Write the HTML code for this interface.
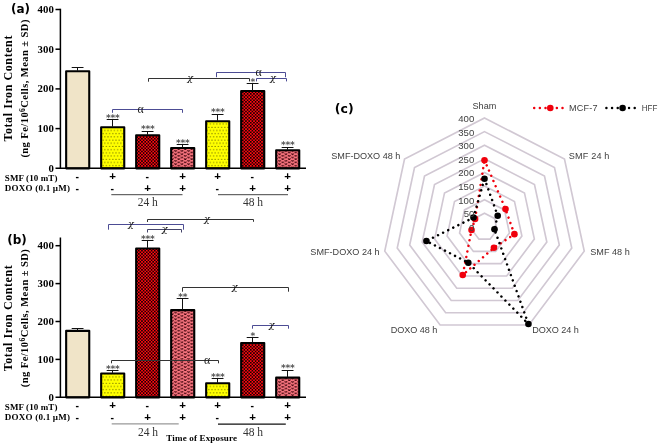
<!DOCTYPE html>
<html><head><meta charset="utf-8"><title>Figure</title>
<style>
html,body{margin:0;padding:0;background:#fff;}
svg{display:block;will-change:transform;}
.ser{font-family:"Liberation Serif",serif;}
.san{font-family:"Liberation Sans",sans-serif;}
.dj{font-family:"DejaVu Sans","Liberation Sans",sans-serif;font-weight:bold;}
.b{font-weight:bold;}
</style></head><body>
<svg width="660" height="446" viewBox="0 0 660 446">
<defs>
<pattern id="pY" width="3.2" height="6.4" patternUnits="userSpaceOnUse" x="1.6" y="1.65">
<rect width="3.2" height="6.4" fill="#ffff00"/><rect x="0.38" y="0.38" width="0.84" height="0.84" fill="#141400"/><rect x="1.98" y="3.58" width="0.84" height="0.84" fill="#141400"/>
</pattern>
<pattern id="pR" width="3.2" height="3.2" patternUnits="userSpaceOnUse" x="0.4" y="0.3">
<rect width="3.2" height="3.2" fill="#ff0810"/><rect x="0" y="0" width="1.55" height="1.55" fill="#100000"/><rect x="1.6" y="1.6" width="1.55" height="1.55" fill="#100000"/>
</pattern>
<pattern id="pP" width="6.5" height="3.3" patternUnits="userSpaceOnUse" x="4.9" y="1.5">
<rect width="6.5" height="3.3" fill="#fa7680"/><path d="M0.35 0.25 L1.6 1.45 L2.85 0.25 M3.6 1.9 L4.85 3.1 L6.1 1.9" fill="none" stroke="#3a0008" stroke-width="1"/>
</pattern>
</defs>
<rect width="660" height="446" fill="#ffffff"/>

<rect x="66.15" y="71.25" width="23.1" height="97.10" fill="#f0e4c8" stroke="#000" stroke-width="2.1" stroke-linejoin="round"/>
<path d="M77.5 70.70V67.50M71.7 67.50H83.5" stroke="#111" stroke-width="1" fill="none"/>
<rect x="101.15" y="127.25" width="23.1" height="41.10" fill="url(#pY)" stroke="#000" stroke-width="2.1" stroke-linejoin="round"/>
<path d="M112.5 126.70V119.50M106.7 119.50H118.5" stroke="#111" stroke-width="1" fill="none"/>
<text class="dj" x="112.7" y="121.3" font-size="9" letter-spacing="-0.2" text-anchor="middle" fill="#555">***</text>
<rect x="136.15" y="135.25" width="23.1" height="33.10" fill="url(#pR)" stroke="#000" stroke-width="2.1" stroke-linejoin="round"/>
<path d="M147.5 134.70V131.50M141.7 131.50H153.5" stroke="#111" stroke-width="1" fill="none"/>
<text class="dj" x="147.7" y="132.1" font-size="9" letter-spacing="-0.2" text-anchor="middle" fill="#555">***</text>
<rect x="171.15" y="148.05" width="23.1" height="20.30" fill="url(#pP)" stroke="#000" stroke-width="2.1" stroke-linejoin="round"/>
<path d="M182.5 147.50V144.50M176.7 144.50H188.5" stroke="#111" stroke-width="1" fill="none"/>
<text class="dj" x="182.7" y="145.5" font-size="9" letter-spacing="-0.2" text-anchor="middle" fill="#555">***</text>
<rect x="206.15" y="121.25" width="23.1" height="47.10" fill="url(#pY)" stroke="#000" stroke-width="2.1" stroke-linejoin="round"/>
<path d="M217.5 120.70V114.50M211.7 114.50H223.5" stroke="#111" stroke-width="1" fill="none"/>
<text class="dj" x="217.7" y="115.1" font-size="9" letter-spacing="-0.2" text-anchor="middle" fill="#555">***</text>
<rect x="241.15" y="91.05" width="23.1" height="77.30" fill="url(#pR)" stroke="#000" stroke-width="2.1" stroke-linejoin="round"/>
<path d="M252.5 90.50V83.50M246.7 83.50H258.5" stroke="#111" stroke-width="1" fill="none"/>
<text class="dj" x="252.7" y="85.1" font-size="9" letter-spacing="-0.2" text-anchor="middle" fill="#555">*</text>
<rect x="276.15" y="150.25" width="23.1" height="18.10" fill="url(#pP)" stroke="#000" stroke-width="2.1" stroke-linejoin="round"/>
<path d="M287.5 149.70V147.50M281.7 147.50H293.5" stroke="#111" stroke-width="1" fill="none"/>
<text class="dj" x="287.7" y="148.4" font-size="9" letter-spacing="-0.2" text-anchor="middle" fill="#555">***</text>
<path d="M60.4 8.75V169.05M55.5 168.30H306" stroke="#000" stroke-width="1.5" fill="none"/>
<text class="ser b" x="53.8" y="171.80" font-size="10.8" text-anchor="end">0</text>
<path d="M55.5 128.60H60.4" stroke="#000" stroke-width="1.5"/>
<text class="ser b" x="53.8" y="132.10" font-size="10.8" text-anchor="end">100</text>
<path d="M55.5 88.90H60.4" stroke="#000" stroke-width="1.5"/>
<text class="ser b" x="53.8" y="92.40" font-size="10.8" text-anchor="end">200</text>
<path d="M55.5 49.20H60.4" stroke="#000" stroke-width="1.5"/>
<text class="ser b" x="53.8" y="52.70" font-size="10.8" text-anchor="end">300</text>
<path d="M55.5 9.50H60.4" stroke="#000" stroke-width="1.5"/>
<text class="ser b" x="53.8" y="13.00" font-size="10.8" text-anchor="end">400</text>
<rect x="66.15" y="330.85" width="23.1" height="66.50" fill="#f0e4c8" stroke="#000" stroke-width="2.1" stroke-linejoin="round"/>
<path d="M77.5 330.30V328.50M71.7 328.50H83.5" stroke="#111" stroke-width="1" fill="none"/>
<rect x="101.15" y="373.45" width="23.1" height="23.90" fill="url(#pY)" stroke="#000" stroke-width="2.1" stroke-linejoin="round"/>
<path d="M112.5 372.90V370.50M106.7 370.50H118.5" stroke="#111" stroke-width="1" fill="none"/>
<text class="dj" x="112.7" y="372.1" font-size="9" letter-spacing="-0.2" text-anchor="middle" fill="#555">***</text>
<rect x="136.15" y="248.45" width="23.1" height="148.90" fill="url(#pR)" stroke="#000" stroke-width="2.1" stroke-linejoin="round"/>
<path d="M147.5 247.90V240.50M141.7 240.50H153.5" stroke="#111" stroke-width="1" fill="none"/>
<text class="dj" x="147.7" y="242.1" font-size="9" letter-spacing="-0.2" text-anchor="middle" fill="#555">***</text>
<rect x="171.15" y="310.15" width="23.1" height="87.20" fill="url(#pP)" stroke="#000" stroke-width="2.1" stroke-linejoin="round"/>
<path d="M182.5 309.60V298.50M176.7 298.50H188.5" stroke="#111" stroke-width="1" fill="none"/>
<text class="dj" x="182.7" y="299.6" font-size="9" letter-spacing="-0.2" text-anchor="middle" fill="#555">**</text>
<rect x="206.15" y="383.25" width="23.1" height="14.10" fill="url(#pY)" stroke="#000" stroke-width="2.1" stroke-linejoin="round"/>
<path d="M217.5 382.70V378.50M211.7 378.50H223.5" stroke="#111" stroke-width="1" fill="none"/>
<text class="dj" x="217.7" y="380.1" font-size="9" letter-spacing="-0.2" text-anchor="middle" fill="#555">***</text>
<rect x="241.15" y="343.05" width="23.1" height="54.30" fill="url(#pR)" stroke="#000" stroke-width="2.1" stroke-linejoin="round"/>
<path d="M252.5 342.50V337.50M246.7 337.50H258.5" stroke="#111" stroke-width="1" fill="none"/>
<text class="dj" x="252.7" y="338.6" font-size="9" letter-spacing="-0.2" text-anchor="middle" fill="#555">*</text>
<rect x="276.15" y="377.65" width="23.1" height="19.70" fill="url(#pP)" stroke="#000" stroke-width="2.1" stroke-linejoin="round"/>
<path d="M287.5 377.10V370.50M281.7 370.50H293.5" stroke="#111" stroke-width="1" fill="none"/>
<text class="dj" x="287.7" y="371.3" font-size="9" letter-spacing="-0.2" text-anchor="middle" fill="#555">***</text>
<path d="M60.4 237.50V398.05M55.5 397.30H306" stroke="#000" stroke-width="1.5" fill="none"/>
<text class="ser b" x="53.8" y="400.80" font-size="10.8" text-anchor="end">0</text>
<path d="M55.5 359.40H60.4" stroke="#000" stroke-width="1.5"/>
<text class="ser b" x="53.8" y="362.90" font-size="10.8" text-anchor="end">100</text>
<path d="M55.5 321.50H60.4" stroke="#000" stroke-width="1.5"/>
<text class="ser b" x="53.8" y="325.00" font-size="10.8" text-anchor="end">200</text>
<path d="M55.5 283.60H60.4" stroke="#000" stroke-width="1.5"/>
<text class="ser b" x="53.8" y="287.10" font-size="10.8" text-anchor="end">300</text>
<path d="M55.5 245.70H60.4" stroke="#000" stroke-width="1.5"/>
<text class="ser b" x="53.8" y="249.20" font-size="10.8" text-anchor="end">400</text>
<path d="M112.5 112.8V109.5H182.5V112.8" fill="none" stroke="#4c4c94" stroke-width="1"/>
<text class="ser" x="140.5" y="112.9" font-size="11.8" text-anchor="middle" fill="#222">α</text>
<path d="M148.5 81.7V78.5H249.5V81.4" fill="none" stroke="#333" stroke-width="1"/>
<text x="190.2" y="80.5" font-family="DejaVu Serif,Liberation Serif,serif" font-size="9.6" font-style="italic" text-anchor="middle" fill="#111">χ</text>
<path d="M216.5 77.2V72.5H285.5V77.2" fill="none" stroke="#4c4c94" stroke-width="1"/>
<text class="ser" x="258.7" y="75.5" font-size="11.8" text-anchor="middle" fill="#222">α</text>
<path d="M256.5 81.4V78.5H286.5V81.4" fill="none" stroke="#4c4c94" stroke-width="1"/>
<text x="272.8" y="80.7" font-family="DejaVu Serif,Liberation Serif,serif" font-size="9.6" font-style="italic" text-anchor="middle" fill="#111">χ</text>
<path d="M147.5 222.0V219.5H253.5V221.8" fill="none" stroke="#333" stroke-width="1"/>
<text x="207.0" y="221.5" font-family="DejaVu Serif,Liberation Serif,serif" font-size="9.6" font-style="italic" text-anchor="middle" fill="#111">χ</text>
<path d="M108.5 229.7V224.5H183.5V229.7" fill="none" stroke="#4c4c94" stroke-width="1"/>
<text x="130.8" y="226.6" font-family="DejaVu Serif,Liberation Serif,serif" font-size="9.6" font-style="italic" text-anchor="middle" fill="#111">χ</text>
<path d="M147.5 232.5V229.5H181.5V232.5" fill="none" stroke="#44446a" stroke-width="1"/>
<text x="164.7" y="232.0" font-family="DejaVu Serif,Liberation Serif,serif" font-size="9.6" font-style="italic" text-anchor="middle" fill="#111">χ</text>
<path d="M182.5 291.7V287.5H288.5V291.7" fill="none" stroke="#333" stroke-width="1"/>
<text x="234.7" y="289.5" font-family="DejaVu Serif,Liberation Serif,serif" font-size="9.6" font-style="italic" text-anchor="middle" fill="#111">χ</text>
<path d="M252.5 328.7V325.5H288.5V328.7" fill="none" stroke="#4c4c94" stroke-width="1"/>
<text x="271.7" y="327.7" font-family="DejaVu Serif,Liberation Serif,serif" font-size="9.6" font-style="italic" text-anchor="middle" fill="#111">χ</text>
<path d="M111.5 363.3V360.5H218.5V363.3" fill="none" stroke="#333" stroke-width="1"/>
<text class="ser" x="207.0" y="363.8" font-size="11.8" text-anchor="middle" fill="#222">α</text>
<text class="ser b" x="4.8" y="180.6" font-size="9" textLength="52.6" lengthAdjust="spacing">SMF (10 mT)</text>
<text class="ser b" x="4.8" y="190.9" font-size="9" textLength="65.2" lengthAdjust="spacing">DOXO (0.1 µM)</text>
<text class="san b" x="77.3" y="179.6" font-size="10.5" text-anchor="middle">-</text>
<text class="san b" x="77.3" y="192.3" font-size="10.5" text-anchor="middle">-</text>
<text class="san b" x="112.6" y="179.5" font-size="11.5" text-anchor="middle">+</text>
<text class="san b" x="112.3" y="192.3" font-size="10.5" text-anchor="middle">-</text>
<text class="san b" x="147.3" y="179.6" font-size="10.5" text-anchor="middle">-</text>
<text class="san b" x="147.6" y="192.2" font-size="11.5" text-anchor="middle">+</text>
<text class="san b" x="182.6" y="179.5" font-size="11.5" text-anchor="middle">+</text>
<text class="san b" x="182.6" y="192.2" font-size="11.5" text-anchor="middle">+</text>
<text class="san b" x="217.6" y="179.5" font-size="11.5" text-anchor="middle">+</text>
<text class="san b" x="217.3" y="192.3" font-size="10.5" text-anchor="middle">-</text>
<text class="san b" x="252.3" y="179.6" font-size="10.5" text-anchor="middle">-</text>
<text class="san b" x="252.6" y="192.2" font-size="11.5" text-anchor="middle">+</text>
<text class="san b" x="287.6" y="179.5" font-size="11.5" text-anchor="middle">+</text>
<text class="san b" x="287.6" y="192.2" font-size="11.5" text-anchor="middle">+</text>
<text class="ser b" x="4.8" y="409.8" font-size="9" textLength="52.6" lengthAdjust="spacing">SMF (10 mT)</text>
<text class="ser b" x="4.8" y="420.1" font-size="9" textLength="65.2" lengthAdjust="spacing">DOXO (0.1 µM)</text>
<text class="san b" x="77.3" y="408.7" font-size="10.5" text-anchor="middle">-</text>
<text class="san b" x="77.3" y="421.2" font-size="10.5" text-anchor="middle">-</text>
<text class="san b" x="112.6" y="408.6" font-size="11.5" text-anchor="middle">+</text>
<text class="san b" x="112.3" y="421.2" font-size="10.5" text-anchor="middle">-</text>
<text class="san b" x="147.3" y="408.7" font-size="10.5" text-anchor="middle">-</text>
<text class="san b" x="147.6" y="421.1" font-size="11.5" text-anchor="middle">+</text>
<text class="san b" x="182.6" y="408.6" font-size="11.5" text-anchor="middle">+</text>
<text class="san b" x="182.6" y="421.1" font-size="11.5" text-anchor="middle">+</text>
<text class="san b" x="217.6" y="408.6" font-size="11.5" text-anchor="middle">+</text>
<text class="san b" x="217.3" y="421.2" font-size="10.5" text-anchor="middle">-</text>
<text class="san b" x="252.3" y="408.7" font-size="10.5" text-anchor="middle">-</text>
<text class="san b" x="252.6" y="421.1" font-size="11.5" text-anchor="middle">+</text>
<text class="san b" x="287.6" y="408.6" font-size="11.5" text-anchor="middle">+</text>
<text class="san b" x="287.6" y="421.1" font-size="11.5" text-anchor="middle">+</text>
<path d="M111.3 194.7H182.5M218 194.7H288" stroke="#444" stroke-width="1"/>
<text class="ser" x="147.8" y="205.8" font-size="11.5" text-anchor="middle" fill="#333">24 h</text>
<text class="ser" x="253" y="205.8" font-size="11.5" text-anchor="middle" fill="#333">48 h</text>
<path d="M111.7 423.9H178.7" stroke="#999" stroke-width="1.4"/>
<path d="M218 424.2H285.8" stroke="#111" stroke-width="1.3"/>
<text class="ser" x="148" y="435.8" font-size="11.5" text-anchor="middle" fill="#333">24 h</text>
<text class="ser" x="253" y="435.8" font-size="11.5" text-anchor="middle" fill="#333">48 h</text>
<text class="ser b" x="166.3" y="440.8" font-size="9" textLength="70.7" lengthAdjust="spacing">Time of Exposure</text>
<text class="ser b" transform="translate(11.8 141.6) rotate(-90)" font-size="12" textLength="106" lengthAdjust="spacing">Total Iron Content</text>
<text class="ser b" transform="translate(28.3 157.6) rotate(-90)" font-size="10.5" textLength="138" lengthAdjust="spacing">(ng Fe/10<tspan font-size="7.6" dy="-3.6">6</tspan><tspan dy="3.6">Cells, Mean ± SD)</tspan></text>
<text class="ser b" transform="translate(11.8 371.2) rotate(-90)" font-size="12" textLength="106" lengthAdjust="spacing">Total Iron Content</text>
<text class="ser b" transform="translate(28.3 387.2) rotate(-90)" font-size="10.5" textLength="138" lengthAdjust="spacing">(ng Fe/10<tspan font-size="7.6" dy="-3.6">6</tspan><tspan dy="3.6">Cells, Mean ± SD)</tspan></text>
<text class="dj" x="11" y="13.2" font-size="12">(a)</text>
<text class="dj" x="7.2" y="243.8" font-size="12">(b)</text>
<text class="dj" x="334.8" y="113" font-size="12.5">(c)</text>
<polygon points="484.50,213.29 494.50,218.41 496.97,229.93 490.05,239.16 478.95,239.16 472.03,229.93 474.50,218.41" fill="none" stroke="#d1c8d3" stroke-width="1.65"/>
<polygon points="484.50,199.68 504.50,209.93 509.43,232.96 495.60,251.43 473.40,251.43 459.57,232.96 464.50,209.93" fill="none" stroke="#d1c8d3" stroke-width="1.65"/>
<polygon points="484.50,186.06 514.49,201.44 521.90,235.99 501.14,263.69 467.86,263.69 447.10,235.99 454.51,201.44" fill="none" stroke="#d1c8d3" stroke-width="1.65"/>
<polygon points="484.50,172.45 524.49,192.95 534.37,239.02 506.69,275.96 462.31,275.96 434.63,239.02 444.51,192.95" fill="none" stroke="#d1c8d3" stroke-width="1.65"/>
<polygon points="484.50,158.84 534.49,184.46 546.83,242.05 512.24,288.22 456.76,288.22 422.17,242.05 434.51,184.46" fill="none" stroke="#d1c8d3" stroke-width="1.65"/>
<polygon points="484.50,145.23 544.49,175.98 559.30,245.07 517.79,300.49 451.21,300.49 409.70,245.07 424.51,175.98" fill="none" stroke="#d1c8d3" stroke-width="1.65"/>
<polygon points="484.50,131.61 554.48,167.49 571.77,248.10 523.34,312.75 445.66,312.75 397.23,248.10 414.52,167.49" fill="none" stroke="#d1c8d3" stroke-width="1.65"/>
<polygon points="484.50,118.00 564.48,159.00 584.24,251.13 528.89,325.02 440.11,325.02 384.76,251.13 404.52,159.00" fill="none" stroke="#d1c8d3" stroke-width="1.65"/>
<polygon points="484.50,160.20 505.50,209.08 514.42,234.17 493.93,247.75 462.75,274.98 471.53,230.05 475.10,218.92" fill="none" stroke="#f0000c" stroke-width="2.5" stroke-dasharray="0.01 5.65" stroke-linecap="round"/>
<circle cx="484.50" cy="160.20" r="3.3" fill="#f0000c"/>
<circle cx="505.50" cy="209.08" r="3.3" fill="#f0000c"/>
<circle cx="514.42" cy="234.17" r="3.3" fill="#f0000c"/>
<circle cx="493.93" cy="247.75" r="3.3" fill="#f0000c"/>
<circle cx="462.75" cy="274.98" r="3.3" fill="#f0000c"/>
<circle cx="471.53" cy="230.05" r="3.3" fill="#f0000c"/>
<circle cx="475.10" cy="218.92" r="3.3" fill="#f0000c"/>
<polygon points="484.50,178.71 497.70,215.70 494.47,229.32 528.44,324.03 468.30,262.71 426.40,241.02 473.50,217.56" fill="none" stroke="#000" stroke-width="2.5" stroke-dasharray="0.01 5.65" stroke-linecap="round"/>
<circle cx="484.50" cy="178.71" r="3.3" fill="#000"/>
<circle cx="497.70" cy="215.70" r="3.3" fill="#000"/>
<circle cx="494.47" cy="229.32" r="3.3" fill="#000"/>
<circle cx="528.44" cy="324.03" r="3.3" fill="#000"/>
<circle cx="468.30" cy="262.71" r="3.3" fill="#000"/>
<circle cx="426.40" cy="241.02" r="3.3" fill="#000"/>
<circle cx="473.50" cy="217.56" r="3.3" fill="#000"/>
<text class="san" x="474.3" y="230.8" font-size="9.6" text-anchor="end" fill="#404040">0</text>
<text class="san" x="474.3" y="217.2" font-size="9.6" text-anchor="end" fill="#404040">50</text>
<text class="san" x="474.3" y="203.6" font-size="9.6" text-anchor="end" fill="#404040">100</text>
<text class="san" x="474.3" y="190.0" font-size="9.6" text-anchor="end" fill="#404040">150</text>
<text class="san" x="474.3" y="176.3" font-size="9.6" text-anchor="end" fill="#404040">200</text>
<text class="san" x="474.3" y="162.7" font-size="9.6" text-anchor="end" fill="#404040">250</text>
<text class="san" x="474.3" y="149.1" font-size="9.6" text-anchor="end" fill="#404040">300</text>
<text class="san" x="474.3" y="135.5" font-size="9.6" text-anchor="end" fill="#404040">350</text>
<text class="san" x="474.3" y="121.9" font-size="9.6" text-anchor="end" fill="#404040">400</text>
<text class="san" x="484.4" y="109" font-size="9.1" text-anchor="middle" fill="#404040">Sham</text>
<text class="san" x="568.8" y="159.2" font-size="9.1" fill="#404040" textLength="40.6" lengthAdjust="spacing">SMF 24 h</text>
<text class="san" x="590.2" y="255.2" font-size="9.1" fill="#404040" textLength="39.6" lengthAdjust="spacing">SMF 48 h</text>
<text class="san" x="532.3" y="333.3" font-size="9.1" fill="#404040" textLength="46.5" lengthAdjust="spacing">DOXO 24 h</text>
<text class="san" x="390.7" y="333.3" font-size="9.1" fill="#404040" textLength="46.5" lengthAdjust="spacing">DOXO 48 h</text>
<text class="san" x="379.6" y="255.2" font-size="9.1" fill="#404040" text-anchor="end">SMF-DOXO 24 h</text>
<text class="san" x="331.3" y="159.2" font-size="9.1" fill="#404040" textLength="69" lengthAdjust="spacing">SMF-DOXO 48 h</text>
<path d="M534.2 108H563.5" stroke="#f0000c" stroke-width="2.5" stroke-dasharray="0.01 5.65" stroke-linecap="round"/><circle cx="550.3" cy="108" r="3.3" fill="#f0000c"/>
<text class="san" x="569.1" y="111.2" font-size="9.1" fill="#404040" textLength="28.4" lengthAdjust="spacing">MCF-7</text>
<path d="M606.4 108H635.5" stroke="#000" stroke-width="2.5" stroke-dasharray="0.01 5.65" stroke-linecap="round"/><circle cx="622.6" cy="108" r="3.3" fill="#000"/>
<text class="san" x="641.8" y="111" font-size="9.1" fill="#404040" textLength="15.6" lengthAdjust="spacingAndGlyphs">HFF</text>
</svg></body></html>
